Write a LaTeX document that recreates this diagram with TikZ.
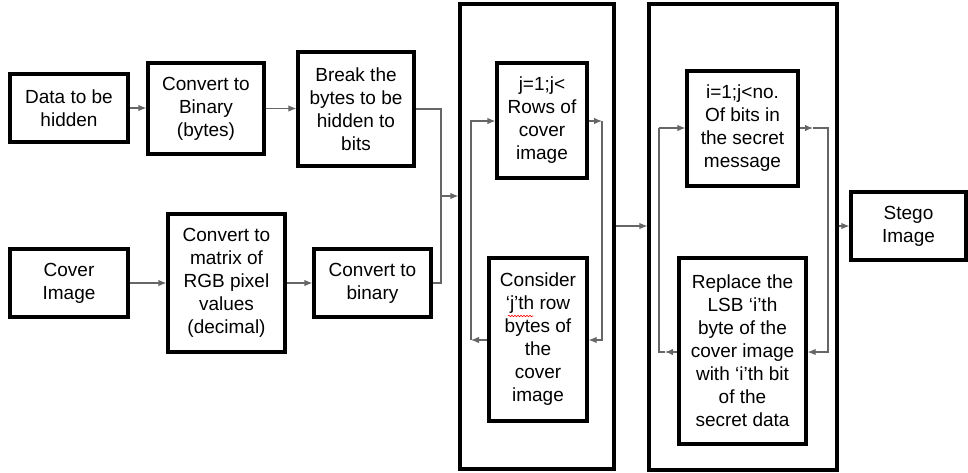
\documentclass[tikz,border=0pt]{standalone}
\usepackage{fontspec}
\setmainfont{Liberation Sans}
\usetikzlibrary{arrows.meta,decorations.pathmorphing}
\definecolor{conncol}{HTML}{666666}
\begin{document}
\begin{tikzpicture}[x=1pt,y=-1pt,
  box/.style={draw=black, line width=3.2pt, align=center, inner sep=0pt,
              font=\fontsize{19}{23}\selectfont},
  frame/.style={draw=black, line width=3.2pt, inner sep=0pt},
  conn/.style={draw=conncol, line width=1.2pt},
  arr/.style={conn, -{Latex[length=8pt,width=6.5pt]}}]
\useasboundingbox (0,0) rectangle (968,472);

% input chain: secret data
\node[box, minimum width=118pt, minimum height=68pt]  (data) at (69,108)    {Data to be\\hidden};
\node[box, minimum width=116pt, minimum height=91pt]  (bin)  at (206,108.5) {Convert to\\Binary\\(bytes)};
\node[box, minimum width=116pt, minimum height=114pt] (brk)  at (356,109)   {Break the\\bytes to be\\hidden to\\bits};

% input chain: cover image
\node[box, minimum width=118pt, minimum height=68pt]  (cover) at (69,283)    {Cover\\Image};
\node[box, minimum width=117pt, minimum height=138pt] (mat)   at (226.5,283) {Convert to\\matrix of\\RGB pixel\\values\\(decimal)};
\node[box, minimum width=117pt, minimum height=68pt]  (cbin)  at (372.5,283) {Convert to\\binary};

% outer loop over rows
\node[frame, minimum width=154pt, minimum height=465pt] (loopA) at (537,236.5) {};
\node[box, minimum width=90pt, minimum height=115pt]  (jbox) at (542,120.5) {j=1;j<\\Rows of\\cover\\image};
\node[box, minimum width=98pt, minimum height=163pt]  (cons) at (538,339.5) {Consider\\‘j’th row\\bytes of\\the\\cover\\image};

% inner loop over message bits
\node[frame, minimum width=188pt, minimum height=466pt] (loopB) at (743,237) {};
\node[box, minimum width=111pt, minimum height=115pt] (ibox) at (742.5,128.5) {i=1;j<no.\\Of bits in\\the secret\\message};
\node[box, minimum width=127pt, minimum height=186pt] (repl) at (742.5,351)   {Replace the\\LSB ‘i’th\\byte of the\\cover image\\with ‘i’th bit\\of the\\secret data};

% output
\node[box, minimum width=115pt, minimum height=68pt] (stego) at (908.5,226) {Stego\\Image};

% spell-check squiggle
\draw[red, line width=0.6pt, decorate, decoration={snake, amplitude=0.8pt, segment length=3pt}] (508,316) -- (533,316);

% connectors of the input chains
\draw[arr] (data.east) -- (data.east -| bin.west);
\draw[arr] (bin.east) -- (bin.east -| brk.west);
\draw[arr] (cover.east) -- (mat.west);
\draw[arr] (mat.east) -- (cbin.west);
\coordinate (jn) at (441,196);
\draw[conn] (brk.east) -| (jn);
\draw[conn] (cbin.east) -| (jn);
\draw[arr] (jn) -- (jn -| loopA.west);

% loop A
\coordinate (aL) at (471,121);
\coordinate (aR) at (602,121);
\coordinate (aLb) at (471,340);
\coordinate (aRb) at (602,340);
\draw[arr] (cons.west |- aLb) -- (aLb);
\draw[arr] (aLb) -- (aL) -- (aL -| jbox.west);
\draw[arr] (jbox.east |- aR) -- (aR);
\draw[arr] (aR) -- (aRb) -- (cons.east |- aRb);

% loop B
\coordinate (bL) at (659,128);
\coordinate (bR) at (828,128);
\coordinate (bLb) at (659,352);
\coordinate (bRb) at (828,352);
\coordinate (bLtip) at (665,352);
\coordinate (bRtip) at (813,128);
\draw[arr] (repl.west |- bLb) -- (bLtip);
\draw[conn] (bLtip) -- (bLb) -- (bL);
\draw[arr] (bL) -- (bL -| ibox.west);
\draw[arr] (ibox.east |- bR) -- (bRtip);
\draw[arr] (bRtip) -- (bR) -- (bRb) -- (repl.east |- bRb);

% between stages
\coordinate (mid) at (0,226);
\draw[arr] (loopA.east |- mid) -- (loopB.west |- mid);
\draw[arr] (loopB.east |- mid) -- (stego.west);
\end{tikzpicture}
\end{document}
